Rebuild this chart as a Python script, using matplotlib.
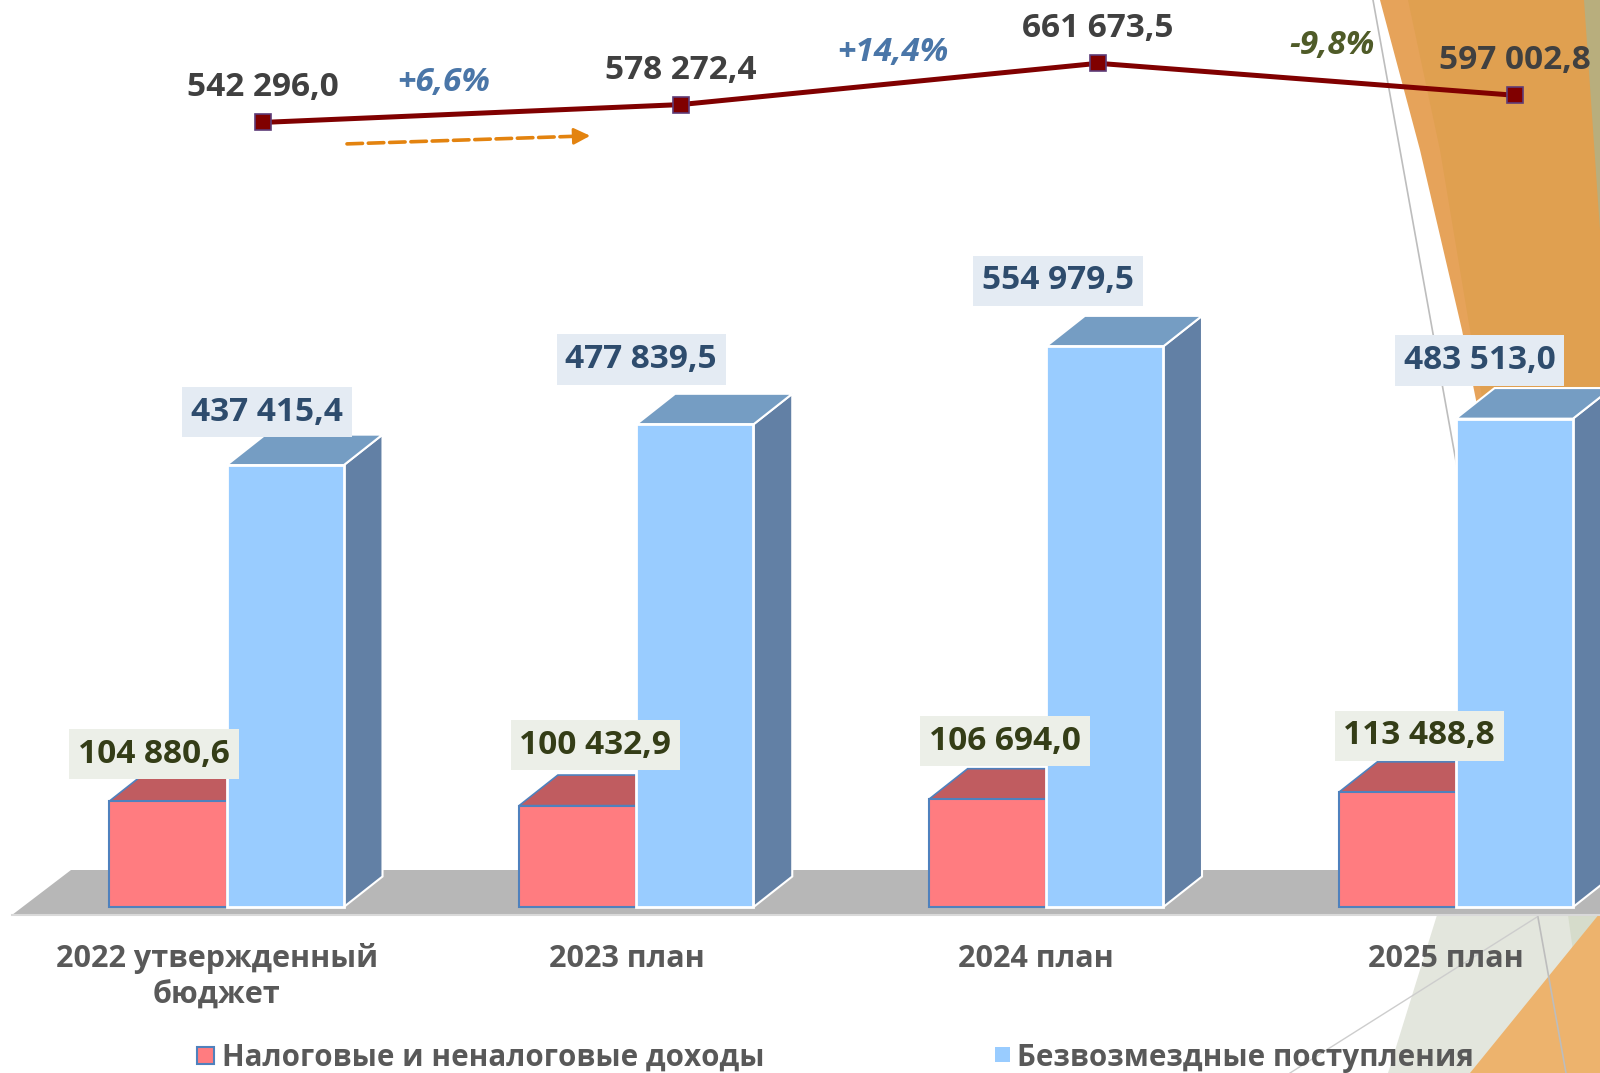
import matplotlib
matplotlib.use('Agg')
import matplotlib.pyplot as plt
from matplotlib.patches import Polygon, Rectangle

plt.rcParams['font.family'] = ['Open Sans', 'DejaVu Sans']

categories = ['2022 утвержденный\nбюджет', '2023 план', '2024 план', '2025 план']
tax_income = [104880.6, 100432.9, 106694.0, 113488.8]
transfers = [437415.4, 477839.5, 554979.5, 483513.0]
total_income = [542296.0, 578272.4, 661673.5, 597002.8]
growth_labels = ['+6,6%', '+14,4%', '-9,8%']
legend_labels = ['Налоговые и неналоговые доходы', 'Безвозмездные поступления']


def fmt(v):
    return f'{v:,.1f}'.replace(',', ' ').replace('.', ',')


W, H = 1600, 1073
fig = plt.figure(figsize=(16, 10.73), dpi=100)

# background decoration (pixel coords, y down)
bg = fig.add_axes([0, 0, 1, 1], zorder=0)
bg.set_xlim(0, W)
bg.set_ylim(H, 0)
bg.axis('off')
bg.add_patch(Polygon([(1380, 0), (1410, 0), (1442, 150), (1472, 330), (1497, 470),
                      (1532, 700), (1562, 890), (1555, 890), (1525, 700), (1490, 470),
                      (1462, 330), (1420, 150)], closed=True, fc='#E6A35A', ec='none'))
bg.add_patch(Polygon([(1408, 0), (1587, 0), (1600, 200), (1600, 890), (1560, 890),
                      (1530, 700), (1495, 470), (1470, 330), (1440, 150)],
                     closed=True, fc='#E0A050', ec='none'))
bg.add_patch(Polygon([(1584, 0), (1600, 0), (1600, 230)], closed=True, fc='#B8AE7D', ec='none'))
bg.add_patch(Polygon([(1437, 915), (1600, 915), (1600, 1073), (1388, 1073)],
                     closed=True, fc='#E3E6DD', ec='none'))
bg.add_patch(Polygon([(1568, 915), (1600, 915), (1600, 1073), (1590, 1073)],
                     closed=True, fc='#D6DCCB', ec='none'))
bg.add_patch(Polygon([(1600, 913), (1600, 1073), (1470, 1073)], closed=True, fc='#EDB36D', ec='none'))
bg.plot([1373, 1566], [0, 1073], color='#BDBDBD', lw=1.2)
bg.plot([1537, 1290], [917, 1073], color='#CDCDCD', lw=1.0)

# dashed arrow under the line
arrow_c = '#E3830F'
bg.plot([347, 580], [143.9, 136.1], color=arrow_c, lw=2.6, dashes=(4.3, 1.6),
        dash_capstyle='round')
bg.annotate('', xy=(593, 135.7), xytext=(577, 136.2),
            arrowprops=dict(arrowstyle='-|>,head_length=0.5,head_width=0.25',
                            color=arrow_c, lw=2.0, mutation_scale=20))

# bars
ax = fig.add_axes([0, 0, 1, 1], zorder=1)
ax.patch.set_alpha(0)
ax.axis('off')
ax.set_xlim(-0.5528, 3.352)
ax.set_ylim(-164225, 897945)

w = 0.286
ddx = 0.0947
ddy = 30290
x = list(range(len(categories)))

# floor
ax.add_patch(Polygon([(-0.523, -8100), (3.6, -8100), (3.6, 36330), (-0.3786, 36330)],
                     closed=True, fc='#B7B7B7', ec='none', zorder=1))
ax.plot([-0.523, 3.6], [-8100, -8100], color='#D9D9D9', lw=1.5, zorder=1)

for i, v in zip(x, tax_income):
    ax.add_patch(Polygon([(i - w, v), (i, v), (i + ddx, v + ddy), (i - w + ddx, v + ddy)],
                         closed=True, fc='#C05C60', ec='#4F81BD', lw=1.2, zorder=2))
ax.bar([i - w for i in x], tax_income, width=w, align='edge', color='#FF7C80',
       edgecolor='#4F81BD', linewidth=1.5, zorder=2)

for i, v in zip(x, transfers):
    ax.add_patch(Polygon([(i + w, 0), (i + w + ddx, ddy), (i + w + ddx, v + ddy), (i + w, v)],
                         closed=True, fc='#6280A5', ec='white', lw=1.5, zorder=3))
    ax.add_patch(Polygon([(i, v), (i + w, v), (i + w + ddx, v + ddy), (i + ddx, v + ddy)],
                         closed=True, fc='#759DC3', ec='white', lw=1.5, zorder=3))
ax.bar(x, transfers, width=w, align='edge', color='#99CCFF', edgecolor='white',
       linewidth=2, zorder=3)

blue_off = [(40.5, 53), (5, 65), (12, 65.5), (24, 58)]
red_off = [(-72.5, 47), (-41, 60.6), (-41, 58), (-36.6, 56.5)]
for i, v in zip(x, transfers):
    ax.annotate(fmt(v), xy=(i, v), xytext=blue_off[i], textcoords='offset pixels',
                ha='center', va='center', fontsize=24, fontweight='bold', color='#2E4C6D',
                bbox=dict(boxstyle='square,pad=0.26', fc='#E4EBF3', ec='none'), zorder=5)
for i, v in zip(x, tax_income):
    ax.annotate(fmt(v), xy=(i, v), xytext=red_off[i], textcoords='offset pixels',
                ha='center', va='center', fontsize=24, fontweight='bold', color='#343D17',
                bbox=dict(boxstyle='square,pad=0.26', fc='#ECEFE8', ec='none'), zorder=5)

# category labels
tr = ax.get_xaxis_transform()
for i, lab in zip(x, categories):
    for k, line in enumerate(lab.split('\n')):
        ax.text(i - 0.024, 1 - (967 + 37 * k) / H, line, transform=tr, ha='center',
                va='baseline', fontsize=22, fontweight='bold', color='#595959')

# total line
ax2 = fig.add_axes([0, 0, 1, 1], zorder=3)
ax2.patch.set_alpha(0)
ax2.axis('off')
ax2.set_xlim(-0.631, 3.203)
ax2.set_ylim(-1377916, 789544)
ax2.plot(x, total_income, color='#800000', lw=3.6, marker='s', ms=12,
         mfc='#800000', mec='#5E3C78', mew=1.2)
for i, v in zip(x, total_income):
    ax2.annotate(fmt(v), xy=(i, v), xytext=(0, 26), textcoords='offset pixels',
                 ha='center', va='baseline', fontsize=24, fontweight='bold', color='#404040')

growth_off = [(-28, 22.7), (4, 22.8), (25.5, 25.2)]
growth_col = ['#4A76A8', '#4A76A8', '#4F5B28']
for k, lab in enumerate(growth_labels):
    mx = k + 0.5
    my = (total_income[k] + total_income[k + 1]) / 2
    ax2.annotate(lab, xy=(mx, my), xytext=growth_off[k], textcoords='offset pixels',
                 ha='center', va='baseline', fontsize=24, fontweight='bold',
                 style='italic', color=growth_col[k])

# legend
fig.patches.append(Rectangle((197 / W, 1 - 1064 / H), 17 / W, 17 / H, transform=fig.transFigure,
                             fc='#FF7C80', ec='#4F81BD', lw=1.5, zorder=4))
fig.text(222 / W, 1 - 1066 / H, legend_labels[0], ha='left', va='baseline', fontsize=21.3,
         fontweight='bold', color='#595959')
fig.patches.append(Rectangle((995 / W, 1 - 1062 / H), 15 / W, 15 / H, transform=fig.transFigure,
                             fc='#99CCFF', ec='none', zorder=4))
fig.text(1017 / W, 1 - 1066 / H, legend_labels[1], ha='left', va='baseline', fontsize=21.3,
         fontweight='bold', color='#595959')

fig.savefig('out.png', dpi=100)
